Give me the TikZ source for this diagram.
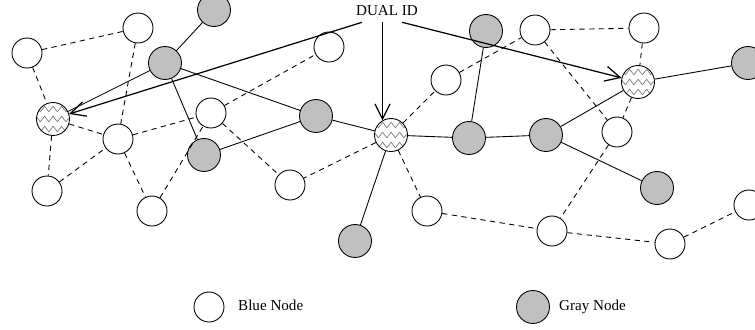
\documentclass[tikz,border=0pt]{standalone}
\usepackage{fontspec}
\setmainfont{Liberation Serif}
\usetikzlibrary{arrows.meta,decorations.pathmorphing}
\definecolor{nodegray}{RGB}{192,192,192}
\tikzset{
	bluenode/.style={circle, draw, line width=0.5pt, fill=white, minimum size=0.6cm, inner sep=0pt},
	graynode/.style={bluenode, fill=nodegray, minimum size=0.66cm},
	dualnode/.style={bluenode, minimum size=0.66cm, path picture={
		\foreach \dy in {0.2,0,-0.2}
			\draw[gray, line width=0.4pt, decorate, decoration={zigzag, segment length=0.17cm, amplitude=0.055cm}]
				([xshift=-0.05cm, yshift=\dy cm]path picture bounding box.west) -- ([xshift=0.05cm, yshift=\dy cm]path picture bounding box.east);
	}},
	solidlink/.style={line width=0.5pt},
	dashlink/.style={line width=0.5pt, dash pattern=on 3pt off 2.5pt},
	pointer/.style={line width=0.7pt},
	>={Straight Barb[length=3mm, width=3mm]}
}
\begin{document}
\begin{tikzpicture}[x=0.02cm, y=-0.02cm, font=\fontsize{8.6}{10}\selectfont]
	\useasboundingbox (0,0) rectangle (755,329);
	\clip (0,0) rectangle (755,329);

	\node[bluenode] (w1) at (27,53) {};
	\node[bluenode] (w2) at (138,28) {};
	\node[bluenode] (w3) at (118,139) {};
	\node[bluenode] (w4) at (211,113) {};
	\node[bluenode] (w5) at (47,191) {};
	\node[bluenode] (w6) at (152,211) {};
	\node[bluenode] (w7) at (329,47) {};
	\node[bluenode] (w8) at (446,80) {};
	\node[bluenode] (w9) at (290,185) {};
	\node[bluenode] (w10) at (427,211) {};
	\node[bluenode] (w11) at (535,30) {};
	\node[bluenode] (w12) at (644,28) {};
	\node[bluenode] (w13) at (617,132) {};
	\node[bluenode] (w14) at (552,231) {};
	\node[bluenode] (w15) at (670,244) {};
	\node[bluenode] (w16) at (749,205) {};

	\node[graynode] (g1) at (214,10) {};
	\node[graynode] (g2) at (165,63) {};
	\node[graynode] (g3) at (204,155) {};
	\node[graynode] (g4) at (486,31) {};
	\node[graynode] (g5) at (316,116) {};
	\node[graynode] (g6) at (469,138) {};
	\node[graynode] (g7) at (355,241) {};
	\node[graynode] (g8) at (748,63) {};
	\node[graynode] (g9) at (546,135) {};
	\node[graynode] (g10) at (657,188) {};

	\node[dualnode] (d1) at (53,119) {};
	\node[dualnode] (d2) at (391,135) {};
	\node[dualnode] (d3) at (638,82) {};

	\node (dualid) at (387,11) {DUAL ID};

	\draw[dashlink] (w1) -- (w2);
	\draw[dashlink] (w1) -- (d1);
	\draw[dashlink] (w2) -- (w3);
	\draw[dashlink] (d1) -- (w3);
	\draw[dashlink] (w3) -- (w4);
	\draw[dashlink] (d1) -- (w5);
	\draw[dashlink] (w5) -- (w3);
	\draw[dashlink] (w3) -- (w6);
	\draw[dashlink] (w6) -- (w4);
	\draw[dashlink] (w4) -- (w9);
	\draw[dashlink] (w4) -- (w7);
	\draw[dashlink] (d2) -- (w9);
	\draw[dashlink] (d2) -- (w8);
	\draw[dashlink] (w8) -- (w11);
	\draw[dashlink] (d2) -- (w10);
	\draw[dashlink] (w10) -- (w14);
	\draw[dashlink] (w11) -- (w12);
	\draw[dashlink] (w11) -- (w13);
	\draw[dashlink] (w12) -- (d3);
	\draw[dashlink] (d3) -- (w13);
	\draw[dashlink] (w13) -- (w14);
	\draw[dashlink] (w14) -- (w15);
	\draw[dashlink] (w15) -- (w16);

	\draw[solidlink] (g1) -- (g2);
	\draw[solidlink] (g2) -- (d1);
	\draw[solidlink] (g2) -- (g3);
	\draw[solidlink] (g2) -- (g5);
	\draw[solidlink] (g3) -- (g5);
	\draw[solidlink] (g5) -- (d2);
	\draw[solidlink] (g4) -- (g6);
	\draw[solidlink] (d2) -- (g6);
	\draw[solidlink] (g6) -- (g9);
	\draw[solidlink] (d2) -- (g7);
	\draw[solidlink] (d3) -- (g8);
	\draw[solidlink] (d3) -- (g9);
	\draw[solidlink] (g9) -- (g10);

	\draw[pointer][->] ([xshift=-0.5cm]dualid.south) -- (d1);
	\draw[pointer][->] (dualid.south -| d2.120) -- (d2.120);
	\draw[pointer][->] ([xshift=0.3cm]dualid.south) -- (d3);

	\node[bluenode] (legblue) at (209,307) {};
	\node[anchor=base west] (legbluetext) at (232,310) {Blue Node};
	\node[graynode] (leggray) at (533,307) {};
	\node[anchor=base west] (leggraytext) at (553,310) {Gray Node};
\end{tikzpicture}
\end{document}
